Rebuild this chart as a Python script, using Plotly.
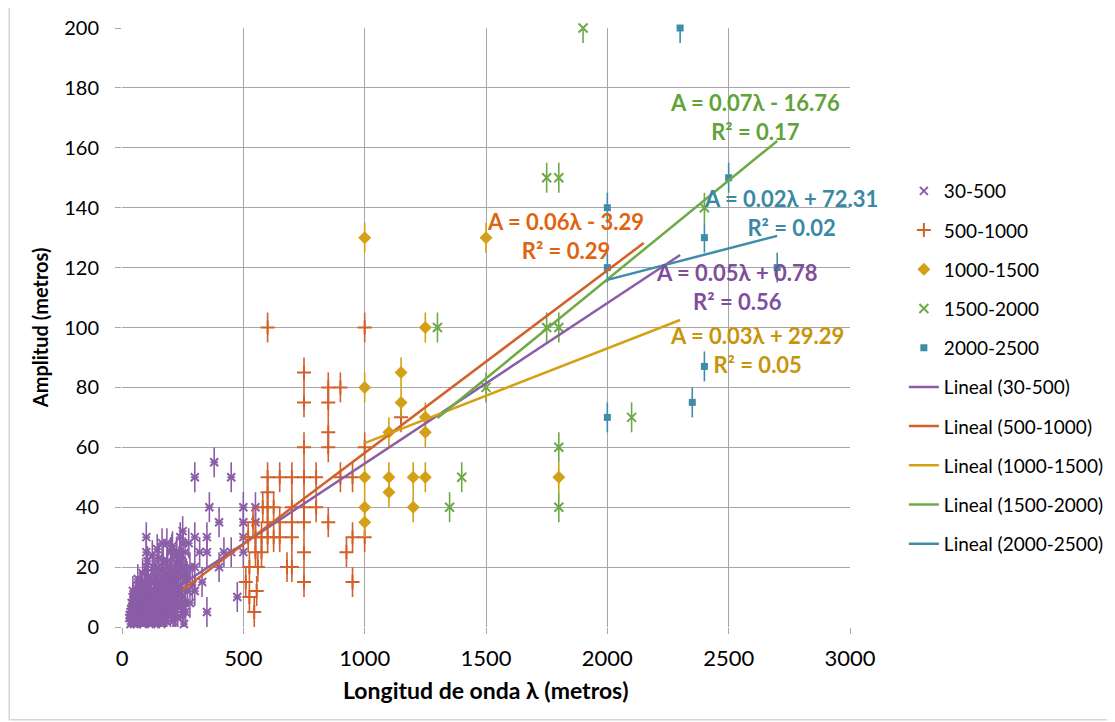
import plotly.graph_objects as go

# ---------------- data ----------------
s1_name = "30-500"
s1_x = [30, 35, 40, 40, 45, 50, 50, 55, 60, 60, 65, 70, 70, 75, 80, 80, 85, 90, 90, 95,
        100, 100, 100, 100, 100, 105, 110, 110, 115, 120, 120, 125, 130, 130, 135, 140, 140, 145,
        150, 150, 150, 155, 160, 160, 165, 170, 170, 175, 180, 180, 185, 190, 190, 200, 200, 200,
        200, 210, 210, 220, 220, 225, 230, 240, 240, 250, 250, 250, 260, 260, 270, 280, 280, 300,
        300, 300, 320, 330, 350, 350, 360, 380, 400, 400, 420, 450, 450, 475, 500, 500, 500, 500,
        550, 550, 350, 300, 250, 230, 180, 120, 60, 45, 75, 85, 95, 115, 135, 145, 165, 175, 195,
        205, 215, 235, 245, 265, 275, 290, 35, 55, 65, 80, 90, 105, 125, 140, 150, 160, 185, 195,
        210, 225, 40, 70, 110, 130, 155, 170, 190, 215, 240, 255,
        32, 38, 42, 48, 52, 58, 62, 68, 72, 78, 82, 88, 92, 98, 102, 108, 112, 118, 122, 128,
        132, 138, 142, 148, 152, 158, 162, 168, 172, 178, 182, 188, 192, 198, 202, 208, 212, 218,
        222, 228, 232, 238, 242, 248, 252, 258, 45, 65, 85, 105, 125, 145, 165, 185, 205, 225,
        245, 262, 268, 272]
s1_y = [3, 5, 2, 8, 4, 6, 1, 10, 3, 7, 12, 5, 2, 9, 4, 12, 6, 8, 3, 15,
        5, 10, 20, 25, 30, 2, 7, 12, 4, 9, 15, 6, 3, 11, 18, 8, 13, 5,
        10, 15, 20, 7, 12, 3, 17, 9, 22, 5, 14, 10, 20, 7, 16, 12, 18, 25,
        4, 10, 20, 15, 8, 25, 12, 18, 30, 10, 20, 32, 15, 25, 12, 20, 8, 30,
        50, 20, 25, 15, 30, 5, 40, 55, 35, 20, 25, 50, 25, 10, 40, 35, 30, 25,
        40, 35, 25, 12, 5, 3, 2, 1, 12, 10, 14, 1, 9, 11, 2, 13, 6, 11, 9,
        15, 5, 22, 8, 18, 28, 14, 1, 4, 2, 7, 11, 14, 3, 1, 6, 8, 4, 13,
        2, 11, 6, 10, 5, 8, 2, 14, 6, 16, 12,
        1, 4, 6, 2, 9, 3, 5, 1, 11, 7, 3, 10, 6, 13, 2, 8, 17, 4, 12, 7,
        20, 3, 16, 10, 5, 23, 14, 1, 19, 8, 12, 3, 22, 9, 16, 6, 27, 11,
        18, 4, 21, 13, 24, 7, 17, 28, 8, 12, 16, 18, 22, 24, 26, 28, 28, 26,
        24, 22, 5, 17]

s2_name = "500-1000"
s2_x = [600, 1000, 750, 750, 850, 900, 850, 850, 850, 750, 1000, 600, 650, 700, 750, 800, 900,
        950, 600, 600, 625, 700, 750, 800, 750, 850, 750, 750, 700, 925, 950, 950, 1000, 700,
        625, 650, 555, 525, 510, 600, 550, 575, 550, 575, 560, 540, 520, 580, 600, 650, 700,
        680, 525, 545, 1150]
s2_y = [100, 100, 85, 75, 80, 80, 75, 65, 60, 60, 60, 50, 50, 50, 50, 50, 50,
        50, 45, 40, 40, 40, 40, 40, 35, 35, 25, 15, 20, 25, 30, 15, 30, 30,
        30, 30, 12, 20, 15, 35, 30, 30, 25, 25, 20, 35, 30, 40, 30, 35, 35,
        20, 10, 5, 70]

s3_name = "1000-1500"
s3_x = [1000, 1500, 1000, 1000, 1000, 1000, 1250, 1150, 1150, 1250, 1250, 1100, 1100, 1100,
        1200, 1250, 1200, 1800]
s3_y = [130, 130, 80, 50, 40, 35, 100, 85, 75, 70, 65, 65, 50, 45, 50, 50, 40, 50]

s4_name = "1500-2000"
s4_x = [1900, 1750, 1800, 1750, 1800, 2400, 1500, 1300, 1400, 1350, 1800, 1800, 2100]
s4_y = [200, 150, 150, 100, 100, 140, 80, 100, 50, 40, 60, 40, 70]

s5_name = "2000-2500"
s5_x = [2300, 2000, 2000, 2000, 2500, 2400, 2400, 2350, 2700]
s5_y = [200, 140, 120, 70, 150, 130, 87, 75, 120]

# trend lines (Excel "Lineal"): start/end wavelength and amplitude
trend_names = ["Lineal (30-500)", "Lineal (500-1000)", "Lineal (1000-1500)",
               "Lineal (1500-2000)", "Lineal (2000-2500)"]
trend_x = [[30, 2300], [250, 2150], [1000, 2300], [1300, 2700], [2000, 2700]]
trend_y = [[2.6, 124.2], [12.4, 128.2], [61.4, 102.5], [69.8, 162.3], [115.9, 130.6]]

eq_text = ["<b>A = 0.05λ + 0.78<br>R² = 0.56</b>", "<b>A = 0.06λ - 3.29<br>R² = 0.29</b>",
           "<b>A = 0.03λ + 29.29<br>R² = 0.05</b>", "<b>A = 0.07λ - 16.76<br>R² = 0.17</b>",
           "<b>A = 0.02λ + 72.31<br>R² = 0.02</b>"]
eq_x = [2534, 1826, 2617, 2609, 2757]
eq_y = [113.5, 130.5, 92.5, 170.3, 138.2]

x_ticks = [0, 500, 1000, 1500, 2000, 2500, 3000]
y_ticks = [0, 20, 40, 60, 80, 100, 120, 140, 160, 180, 200]

# ---------------- style ----------------
C_PURPLE = "#8B5DA6"
C_ORANGE = "#D2602A"
C_GOLD = "#D4A016"
C_GREEN = "#6DAA45"
C_TEAL = "#3D8DA8"
T_COLORS = ["#7E4E9C", "#E0640F", "#C8940C", "#62A23B", "#3A89A4"]
FONT = "Lato"

fig = go.Figure()


def err(color, arr_len, val):
    return dict(type="data", symmetric=True, array=[val] * arr_len, color=color,
                thickness=1.6, width=0)


fig.add_trace(go.Scatter(
    x=s1_x, y=s1_y, mode="markers", name=s1_name, cliponaxis=False,
    marker=dict(symbol="x-thin-open", size=8, color=C_PURPLE, line=dict(width=2, color=C_PURPLE)),
    error_y=err(C_PURPLE, len(s1_x), 5), error_x=err(C_PURPLE, len(s1_x), 16),
    legendgroup="a1"))
fig.add_trace(go.Scatter(
    x=s2_x, y=s2_y, mode="markers", name=s2_name, cliponaxis=False,
    marker=dict(symbol="cross-thin-open", size=10, color=C_ORANGE, line=dict(width=2, color=C_ORANGE)),
    error_y=err(C_ORANGE, len(s2_x), 5), legendgroup="a2"))
fig.add_trace(go.Scatter(
    x=s3_x, y=s3_y, mode="markers", name=s3_name, cliponaxis=False,
    marker=dict(symbol="diamond", size=10, color=C_GOLD),
    error_y=err(C_GOLD, len(s3_x), 5), legendgroup="a3"))
fig.add_trace(go.Scatter(
    x=s4_x, y=s4_y, mode="markers", name=s4_name, cliponaxis=False,
    marker=dict(symbol="x-thin-open", size=9, color=C_GREEN, line=dict(width=2, color=C_GREEN)),
    error_y=err(C_GREEN, len(s4_x), 5), legendgroup="a4"))
fig.add_trace(go.Scatter(
    x=s5_x, y=s5_y, mode="markers", name=s5_name, cliponaxis=False,
    marker=dict(symbol="square", size=7, color=C_TEAL),
    error_y=err(C_TEAL, len(s5_x), 5), legendgroup="a5"))

line_cols = [C_PURPLE, C_ORANGE, C_GOLD, C_GREEN, C_TEAL]
for i in range(5):
    fig.add_trace(go.Scatter(
        x=trend_x[i], y=trend_y[i], mode="lines", name=trend_names[i],
        line=dict(color=line_cols[i], width=2.5), legendgroup="b%d" % i))

for i in range(5):
    fig.add_annotation(x=eq_x[i], y=eq_y[i], text=eq_text[i], showarrow=False,
                       font=dict(family=FONT, size=22, color=T_COLORS[i]),
                       align="center", xanchor="center", yanchor="middle")

# axis titles
fig.add_annotation(x=0.5, y=-0.105, xref="paper", yref="paper",
                   text="<b>Longitud de onda λ (metros)</b>", showarrow=False,
                   font=dict(family=FONT, size=23, color="#000000"),
                   xanchor="center", yanchor="middle")
fig.add_annotation(x=-0.113, y=0.5, xref="paper", yref="paper",
                   text="<b>Amplitud (metros)</b>", showarrow=False, textangle=-90,
                   font=dict(family=FONT, size=20, color="#000000"),
                   xanchor="center", yanchor="middle")

# chart border
fig.add_shape(type="rect", xref="paper", yref="paper", x0=-0.155, x1=1.36, y0=-0.155, y1=1.06,
              line=dict(color="#BFBFBF", width=1), layer="below")

grid = "#A6A6A6"
fig.update_xaxes(range=[0, 3000], tickvals=x_ticks, showgrid=True, gridcolor=grid, gridwidth=1,
                 zeroline=False, showline=False, ticks="outside", ticklen=6, tickcolor=grid,
                 tickfont=dict(family=FONT, size=22, color="#000000"), ticklabelstandoff=6,
                 automargin=False)
fig.update_yaxes(range=[0, 200], tickvals=y_ticks, showgrid=True, gridcolor=grid, gridwidth=1,
                 zeroline=False, showline=False, ticks="outside", ticklen=6, tickcolor=grid,
                 tickfont=dict(family=FONT, size=20, color="#000000"), ticklabelstandoff=12,
                 automargin=False)

fig.update_layout(
    width=1115, height=722,
    margin=dict(l=114, r=273, t=20, b=103, autoexpand=False),
    paper_bgcolor="white", plot_bgcolor="white",
    showlegend=True,
    legend=dict(x=1.074, y=0.7595, xanchor="left", yanchor="top", traceorder="grouped",
                tracegroupgap=11.5, font=dict(family=FONT, size=19, color="#000000"),
                bgcolor="rgba(0,0,0,0)"),
)

fig.write_html("out.html")
